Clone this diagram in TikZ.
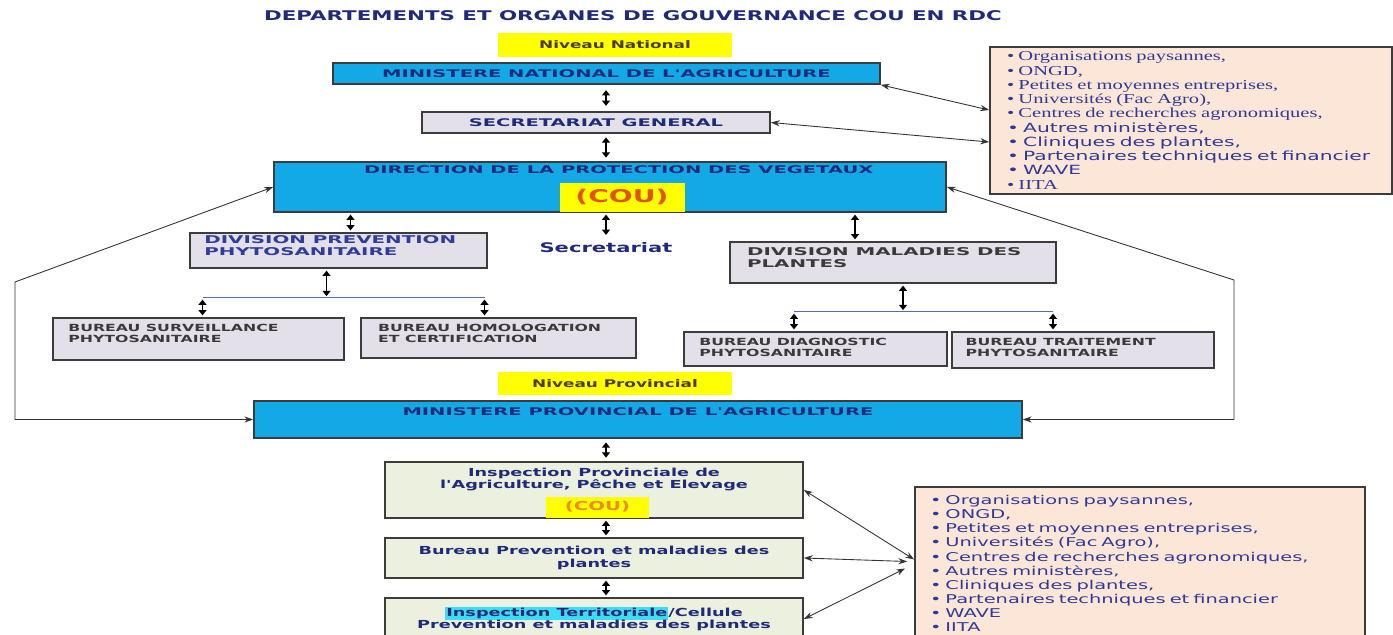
\documentclass[tikz,border=0pt]{standalone}
\usepackage{fontspec}
\usepackage{xcolor}
\usetikzlibrary{arrows.meta,positioning,calc}
\newfontfamily\widesans[FakeStretch=1.6]{DejaVu Sans}
\newfontfamily\capsans[FakeStretch=1.85]{DejaVu Sans}
\newfontfamily\wideserif[FakeStretch=1.5]{Liberation Serif}
\definecolor{cabblue}{HTML}{12A9E6}
\definecolor{cabgray}{HTML}{E4E0EA}
\definecolor{cabgreen}{HTML}{EBF0DF}
\definecolor{cabpeach}{HTML}{FCE6D8}
\definecolor{cabyellow}{HTML}{FFFF00}
\definecolor{boxline}{HTML}{3C3C3C}
\definecolor{navytext}{HTML}{1F2B7A}
\definecolor{divblue}{HTML}{2E3C9C}
\definecolor{bureautext}{HTML}{3A3A3A}
\definecolor{lvltext}{HTML}{4A3B12}
\definecolor{coured}{HTML}{E05410}
\definecolor{couorange}{HTML}{F08A24}
\definecolor{cyanhl}{HTML}{3DDCF5}
\definecolor{listtext}{HTML}{2E3A98}
\definecolor{linkgray}{HTML}{333333}
\definecolor{branchblue}{HTML}{4F6FA8}
\newcommand\pxu{0.02cm}
\setlength{\fboxsep}{0.6pt}
\tikzset{
  titletext/.style={inner sep=0pt,text=navytext,
    font=\widesans\bfseries\fontsize{7.6}{9}\selectfont},
  lvlbox/.style={rectangle,fill=cabyellow,inner sep=0pt,text=lvltext,
    font=\widesans\bfseries\fontsize{6}{7}\selectfont},
  bluebox/.style={rectangle,draw=boxline,line width=1pt,fill=cabblue,inner sep=0pt,
    text=navytext,font=\capsans\bfseries\fontsize{6}{7.2}\selectfont},
  graybox/.style={rectangle,draw=boxline,line width=1pt,fill=cabgray,inner sep=0pt,
    text=navytext,font=\capsans\bfseries\fontsize{6}{7.2}\selectfont},
  provbox/.style={rectangle,draw=boxline,line width=1pt,fill=cabgreen,inner sep=0pt,
    align=center,text=navytext,font=\widesans\bfseries\fontsize{6.3}{6.9}\selectfont},
  listbox/.style={rectangle,draw=boxline,line width=1pt,fill=cabpeach,inner sep=0pt,
    align=left,text=listtext},
  coubox/.style={rectangle,fill=cabyellow,inner sep=0pt,anchor=south},
  toplabel/.style={anchor=north,inner sep=0pt,align=center,text=navytext,
    font=\capsans\bfseries\fontsize{6}{7.2}\selectfont},
  divlabel/.style={anchor=north west,inner sep=0pt,align=left,text=divblue,
    font=\capsans\bfseries\fontsize{6.1}{6.9}\selectfont},
  burlabel/.style={anchor=north west,inner sep=0pt,align=left,text=bureautext,
    font=\widesans\bfseries\fontsize{5.6}{6}\selectfont},
  dblarrow/.style={{Triangle[width=4.5pt,length=3pt]}-{Triangle[width=4.5pt,length=3pt]},
    line width=0.8pt,draw=black,shorten <=1pt,shorten >=1pt},
  relline/.style={{Stealth[length=5pt,width=3.5pt]}-{Stealth[length=5pt,width=3.5pt]},
    line width=0.5pt,draw=linkgray},
  branchline/.style={line width=0.6pt,draw=branchblue},
  serifitem/.style={}
}
\newcommand\seritem{\wideserif\fontsize{7.8}{8.1}\selectfont}
\begin{document}
\begin{tikzpicture}[x=\pxu,y=-\pxu]
  \useasboundingbox (0,0) rectangle (1393,635);
  % national level
  \node[titletext] (title) at (633,16) {DEPARTEMENTS ET ORGANES DE GOUVERNANCE COU EN RDC};
  \node[lvlbox,minimum width=234*\pxu,minimum height=24*\pxu] (nivnat) at (615,45) {Niveau National};
  \node[bluebox,minimum width=547*\pxu,minimum height=21*\pxu] (minnat) at (606.5,73.5)
    {MINISTERE NATIONAL DE L'AGRICULTURE};
  \node[graybox,minimum width=348*\pxu,minimum height=21*\pxu] (secgen) at (596,122.5)
    {SECRETARIAT GENERAL};
  \node[bluebox,minimum width=672*\pxu,minimum height=50*\pxu,
    label={[toplabel,xshift=5pt,yshift=-2.3pt]north:DIRECTION DE LA PROTECTION DES VEGETAUX}]
    (dpv) at (610,187) {};
  \node[coubox,minimum width=125*\pxu,minimum height=29*\pxu,text=coured,
    font=\widesans\bfseries\fontsize{10}{12}\selectfont] (dpvcou) at ($(dpv.south)+(12,-1)$) {(COU)};
  \node[text=navytext,font=\widesans\bfseries\fontsize{7.5}{9}\selectfont] (secr) at (606,248) {Secretariat};
  % divisions and bureaux
  \node[graybox,minimum width=297*\pxu,minimum height=35*\pxu,
    label={[divlabel,xshift=8.5pt,yshift=-1.7pt]north west:DIVISION PREVENTION\\PHYTOSANITAIRE}]
    (divprev) at (338.5,250.5) {};
  \node[graybox,minimum width=326*\pxu,minimum height=41*\pxu,
    label={[divlabel,text=bureautext,xshift=10pt,yshift=-3.4pt]north west:DIVISION MALADIES DES\\PLANTES}]
    (divmal) at (893,262.5) {};
  \node[graybox,minimum width=291*\pxu,minimum height=42*\pxu,
    label={[burlabel,xshift=9pt,yshift=-4pt]north west:BUREAU SURVEILLANCE\\PHYTOSANITAIRE}]
    (bursurv) at (198.5,339) {};
  \node[graybox,minimum width=275*\pxu,minimum height=40*\pxu,
    label={[burlabel,xshift=10pt,yshift=-4pt]north west:BUREAU HOMOLOGATION\\ET CERTIFICATION}]
    (burhom) at (498.5,338) {};
  \node[graybox,minimum width=263*\pxu,minimum height=34*\pxu,
    label={[burlabel,xshift=9pt,yshift=-4pt]north west:BUREAU DIAGNOSTIC\\PHYTOSANITAIRE}]
    (burdiag) at (815.5,349) {};
  \node[graybox,minimum width=262*\pxu,minimum height=36*\pxu,
    label={[burlabel,xshift=8pt,yshift=-4pt]north west:BUREAU TRAITEMENT\\PHYTOSANITAIRE}]
    (burtrait) at (1083,350) {};
  % provincial level
  \node[lvlbox,minimum width=234*\pxu,minimum height=23*\pxu] (nivprov) at (615,383.5) {Niveau Provincial};
  \node[bluebox,minimum width=768*\pxu,minimum height=37*\pxu,
    label={[toplabel,yshift=-4pt]north:MINISTERE PROVINCIAL DE L'AGRICULTURE}]
    (minprov) at (638,419.5) {};
  \node[provbox,minimum width=418*\pxu,minimum height=56*\pxu,
    label={[toplabel,yshift=-3.5pt,font=\widesans\bfseries\fontsize{6.3}{6.9}\selectfont]north:Inspection Provinciale de\\l'Agriculture, Pêche et Elevage}]
    (insprov) at (594,490) {};
  \node[coubox,minimum width=103*\pxu,minimum height=21*\pxu,text=couorange,
    font=\widesans\bfseries\fontsize{7}{8}\selectfont] (inscou) at ($(insprov.south)+(3.5,-1)$) {(COU)};
  \node[provbox,minimum width=418*\pxu,minimum height=40*\pxu] (burprev) at (594,558)
    {Bureau Prevention et maladies des\\plantes};
  \node[provbox,minimum width=418*\pxu,minimum height=42*\pxu] (insterr) at (594,619)
    {\colorbox{cyanhl}{Inspection Territoriale}/Cellule\\Prevention et maladies des plantes};
  % partner lists
  \node[listbox,minimum width=402*\pxu,minimum height=147*\pxu,text width=368*\pxu,
    font=\widesans\fontsize{7.2}{8.1}\selectfont] (toplist) at (1191,120.5)
    {{\seritem • Organisations paysannes,}\\
     {\seritem • ONGD,}\\
     {\seritem • Petites et moyennes entreprises,}\\
     {\seritem • Universités (Fac Agro),}\\
     {\seritem • Centres de recherches agronomiques,}\\
     • Autres ministères,\\
     • Cliniques des plantes,\\
     • Partenaires techniques et financier\\
     • WAVE\\
     {\seritem • IITA}};
  \node[listbox,minimum width=450*\pxu,minimum height=153*\pxu,text width=420*\pxu,
    font=\widesans\fontsize{6.9}{8.05}\selectfont] (botlist) at (1140,563.5)
    {• Organisations paysannes,\\
     • ONGD,\\
     • Petites et moyennes entreprises,\\
     • Universités (Fac Agro),\\
     • Centres de recherches agronomiques,\\
     • Autres ministères,\\
     • Cliniques des plantes,\\
     • Partenaires techniques et financier\\
     • WAVE\\
     • IITA};
  % vertical links
  \draw[dblarrow,shorten <=3pt,shorten >=3pt] (minnat.south -| secr) -- (secgen.north -| secr);
  \draw[dblarrow,shorten <=2pt,shorten >=2pt] (secgen.south -| secr) -- (dpv.north -| secr);
  \draw[dblarrow] (dpv.south -| secr) -- (secr.north);
  \coordinate (prevtop) at ($(divprev.north)+(12,0)$);
  \coordinate (maltop) at ($(divmal.north)+(-38,0)$);
  \draw[dblarrow] (dpv.south -| prevtop) -- (prevtop);
  \draw[dblarrow] (dpv.south -| maltop) -- (maltop);
  % branch of the prevention division
  \coordinate (prevbot) at ($(divprev.south)+(-12,0)$);
  \coordinate (prevbar) at ($(divprev.south)+(-12,29)$);
  \coordinate (survtop) at ($(bursurv.north)+(4,0)$);
  \coordinate (homtop) at ($(burhom.north)+(-14,0)$);
  \draw[dblarrow] (prevbot) -- (prevbar);
  \draw[branchline] (prevbar -| survtop) -- (prevbar -| homtop);
  \draw[dblarrow] (prevbar -| survtop) -- (survtop);
  \draw[dblarrow] (prevbar -| homtop) -- (homtop);
  % branch of the disease division
  \coordinate (malbot) at ($(divmal.south)+(10,0)$);
  \coordinate (malbar) at ($(divmal.south)+(10,28)$);
  \coordinate (diagtop) at ($(burdiag.north)+(-21.5,0)$);
  \coordinate (traittop) at ($(burtrait.north)+(-30,0)$);
  \draw[dblarrow] (malbot) -- (malbar);
  \draw[branchline] (malbar -| diagtop) -- (malbar -| traittop);
  \draw[dblarrow] (malbar -| diagtop) -- (diagtop);
  \draw[dblarrow] (malbar -| traittop) -- (traittop);
  % provincial chain
  \draw[dblarrow,shorten <=2pt,shorten >=2pt] (minprov.south -| secr) -- (insprov.north -| secr);
  \draw[dblarrow] (insprov.south -| secr) -- (burprev.north -| secr);
  \draw[dblarrow] (burprev.south -| secr) -- (insterr.north -| secr);
  % links to the provincial ministry
  \coordinate (leftbend) at (15,282);
  \coordinate (rightbend) at (1234,280);
  \draw[relline] (dpv.west) -- (leftbend) |- (minprov.west);
  \draw[relline] (dpv.east) -- (rightbend) |- (minprov.east);
  % links to the partners
  \draw[relline] (minnat.south east) -- ($(toplist.west)+(0,-10.5)$);
  \draw[relline] (secgen.east) -- ($(toplist.west)+(0,21.5)$);
  \draw[relline] (insprov.east) -- ($(botlist.west)+(0,-4)$);
  \draw[relline] (burprev.east) -- ($(botlist.west)+(-7,-2)$);
  \draw[relline] (insterr.east) -- ($(botlist.west)+(-9,5)$);
\end{tikzpicture}
\end{document}
